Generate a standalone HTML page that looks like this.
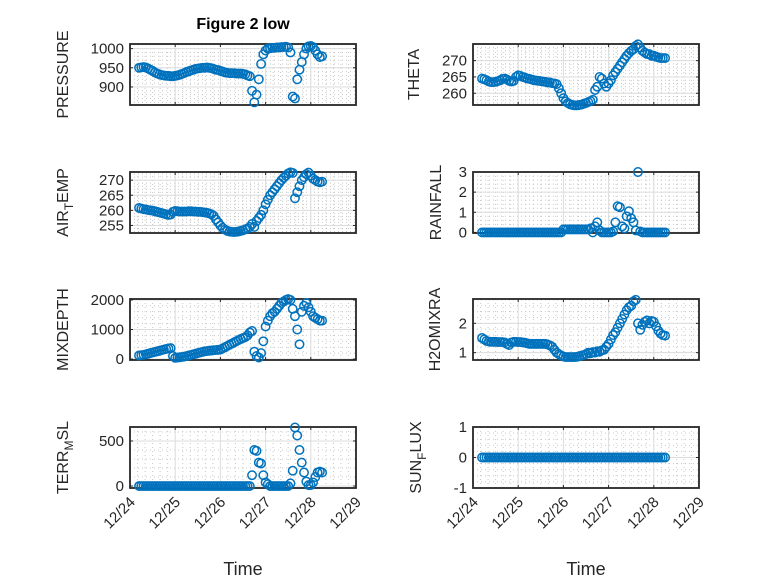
<!DOCTYPE html>
<html><head><meta charset="utf-8"><style>
html,body{margin:0;padding:0;background:#fff;}
svg{display:block;font-family:"Liberation Sans","DejaVu Sans",sans-serif;}
</style></head><body>
<svg id="fig" width="778" height="583" viewBox="0 0 778 583" xmlns="http://www.w3.org/2000/svg">
<rect width="778" height="583" fill="#fff"/>
<text x="243" y="29" font-size="16" font-weight="bold" text-anchor="middle" fill="#000">Figure 2 low</text>
</svg>
<script>
const xTickLabels = ["12/24","12/25","12/26","12/27","12/28","12/29"];
const tStart = 0.2, tStep = 0.05, nPts = 82;
const pressure = [950,951,952,951,948,945,942,938,935,933,931,930,929,929,928,928,929,930,932,934,936,939,941,943,945,947,948,949,950,950,951,950,949,947,945,944,942,940,938,937,936,936,936,935,935,935,934,933,930,928,890,860,880,920,960,985,995,1000,1001,1002,1002,1003,1003,1004,1004,1005,1003,990,875,870,920,945,965,985,1000,1006,1007,1004,995,985,978,980];
const theta = [264.5,264.3,264,263.6,263.4,263.4,263.5,263.7,264,264.4,264.5,264.2,263.8,263.6,263.8,265,265.5,265.3,265,264.8,264.5,264.4,264.2,264,263.9,263.8,263.7,263.6,263.5,263.3,263.3,263.1,263,262.8,261.5,260,258.5,257.5,257,256.6,256.4,256.3,256.3,256.4,256.5,256.8,257,257.3,257.6,258,261,262,265,264.5,263,262,263,264,265.5,266.5,267.5,268.5,269.5,270.5,271.5,272.3,273,273.5,274.5,275,274,273,272.5,272,272,271.5,271.5,271.2,271,270.8,270.8,270.8];
const airTemp = [260.8,260.6,260.4,260.3,260.1,260,259.9,259.7,259.5,259.3,259.1,258.9,258.7,258.5,258.6,259.5,259.8,259.7,259.6,259.6,259.6,259.6,259.7,259.7,259.6,259.6,259.5,259.5,259.4,259.3,259.2,259,258.7,258.2,257,256,255,254.2,253.6,253.2,253,252.9,252.8,252.9,253,253.2,253.4,253.7,254,254.5,255.5,254.5,256.5,257.5,258.5,260,262,263.5,265,266,267,268,269,270,270.8,271.5,272.2,272.6,272.4,264,266,268,270,271,272,272.5,271.5,270.5,270,269.5,269.3,269.5];
const rainfall = [0,0,0,0,0,0,0,0,0,0,0,0,0,0,0,0,0,0,0,0,0,0,0,0,0,0,0,0,0,0,0,0,0,0,0,0,0.15,0.15,0.15,0.15,0.15,0.15,0.15,0.15,0.15,0.15,0.15,0.15,0.2,0,0.3,0.5,0.1,0,0,0,0,0,0.05,0.5,1.3,1.25,0.3,0.2,0.8,1.05,0.7,0.5,0.1,3.0,0.05,0,0,0,0,0,0,0,0,0,0,0];
const mixDepth = [120,130,140,160,180,200,220,240,260,280,300,320,340,360,370,100,40,50,60,70,80,100,120,140,160,180,200,220,240,260,270,280,290,300,305,310,320,360,400,440,480,520,560,600,640,680,710,740,800,900,950,250,100,50,200,600,1100,1300,1450,1550,1600,1700,1800,1900,1950,2000,2030,2000,1700,1450,1000,500,1600,1800,1900,1750,1600,1450,1400,1350,1300,1300];
const h2oMix = [1.5,1.45,1.4,1.38,1.37,1.37,1.37,1.36,1.36,1.36,1.35,1.3,1.26,1.35,1.37,1.37,1.36,1.36,1.35,1.34,1.32,1.3,1.3,1.3,1.3,1.3,1.3,1.3,1.3,1.28,1.25,1.2,1.1,1.0,0.95,0.9,0.87,0.85,0.85,0.85,0.85,0.85,0.86,0.88,0.9,0.92,0.95,1.0,0.98,1.02,1.0,1.05,1.03,1.08,1.1,1.2,1.3,1.45,1.6,1.7,1.85,2.0,2.15,2.3,2.45,2.55,2.6,2.75,2.8,2.0,1.78,1.95,2.05,2.1,2.0,2.08,2.05,1.9,1.75,1.65,1.6,1.58];
const terrMSL = [0,0,0,0,0,0,0,0,0,0,0,0,0,0,0,0,0,0,0,0,0,0,0,0,0,0,0,0,0,0,0,0,0,0,0,0,0,0,0,0,0,0,0,0,0,0,0,0,0,0,120,400,390,260,250,120,40,20,0,0,0,0,0,0,0,0,0,30,170,650,560,400,260,150,50,10,10,40,100,150,160,150];
const sunFlux = new Array(82).fill(0);
const pressureTicks = [900,950,1000];
const thetaTicks = [260,265,270];
const airTicks = [255,260,265,270];
const rainTicks = [0,1,2,3];
const mixTicks = [0,1000,2000];
const h2oTicks = [1,2];
const terrTicks = [0,500];
const sunTicks = [-1,0,1];

const times = [];
for (let i = 0; i < nPts; i++) times.push(tStart + tStep * i);

const NS = "http://www.w3.org/2000/svg";
const svg = document.getElementById("fig");
function mk(tag, attrs, parent) {
  const e = document.createElementNS(NS, tag);
  for (const k in attrs) e.setAttribute(k, attrs[k]);
  (parent || svg).appendChild(e);
  return e;
}
const colL = 130, colR = 473, W = 226, H = 61;
const rows = [44, 172, 299, 427];
const panels = [
  {key:"pressure", vals:pressure, ticks:pressureTicks, lo:853, hi:1012, x:colL, y:rows[0], label:["PRESSURE"], lx:68},
  {key:"theta", vals:theta, ticks:thetaTicks, lo:256.4, hi:275.1, x:colR, y:rows[0], label:["THETA"], lx:419},
  {key:"air-temp", vals:airTemp, ticks:airTicks, lo:252.5, hi:272.7, x:colL, y:rows[1], label:["AIR","T","EMP"], lx:68},
  {key:"rainfall", vals:rainfall, ticks:rainTicks, lo:-0.03, hi:3.0, x:colR, y:rows[1], label:["RAINFALL"], lx:441},
  {key:"mixdepth", vals:mixDepth, ticks:mixTicks, lo:-33, hi:2033, x:colL, y:rows[2], label:["MIXDEPTH"], lx:68},
  {key:"h2omixra", vals:h2oMix, ticks:h2oTicks, lo:0.75, hi:2.83, x:colR, y:rows[2], label:["H2OMIXRA"], lx:440},
  {key:"terr-msl", vals:terrMSL, ticks:terrTicks, lo:-22, hi:655, x:colL, y:rows[3], label:["TERR","M","SL"], lx:68},
  {key:"sun-flux", vals:sunFlux, ticks:sunTicks, lo:-1, hi:1, x:colR, y:rows[3], label:["SUN","F","LUX"], lx:421}
];
panels.forEach((p, pi) => {
  const g = mk("g", {});
  
  
  const xs = t => p.x + t / 5 * W;
  const ys = v => p.y + H - (v - p.lo) / (p.hi - p.lo) * H;
  for (let d = 0; d < 5; d++) for (let m = 1; m < 6; m++) {
    const xx = xs(d + m / 6);
    mk("line", {x1:xx, x2:xx, y1:p.y, y2:p.y+H, stroke:"#c8c8c8", "stroke-width":1, "stroke-dasharray":"1 3"}, g);
  }
  const step = p.ticks[1] - p.ticks[0];
  const ms = step / 5;
  for (let v = p.ticks[0] - step; v <= p.ticks[p.ticks.length-1] + step + 1e-9; v += ms) {
    if (v <= p.lo || v >= p.hi) continue;
    const yy = ys(v);
    mk("line", {x1:p.x, x2:p.x+W, y1:yy, y2:yy, stroke:"#c8c8c8", "stroke-width":1, "stroke-dasharray":"1 3"}, g);
  }
  for (let d = 1; d < 5; d++) {
    const xx = xs(d);
    mk("line", {x1:xx, x2:xx, y1:p.y, y2:p.y+H, stroke:"#dcdcdc", "stroke-width":1}, g);
  }
  p.ticks.forEach(v => {
    const yy = ys(v);
    mk("line", {x1:p.x, x2:p.x+W, y1:yy, y2:yy, stroke:"#dcdcdc", "stroke-width":1}, g);
    mk("line", {x1:p.x, x2:p.x+3, y1:yy, y2:yy, stroke:"#262626", "stroke-width":1}, g);
    mk("line", {x1:p.x+W-3, x2:p.x+W, y1:yy, y2:yy, stroke:"#262626", "stroke-width":1}, g);
    const tl = mk("text", {x:p.x-6, y:yy+5, "font-size":15, "text-anchor":"end", fill:"#262626"}, g);
    
    
    tl.textContent = String(v);
  });
  for (let d = 1; d < 5; d++) {
    const xx = xs(d);
    mk("line", {x1:xx, x2:xx, y1:p.y, y2:p.y+3, stroke:"#262626", "stroke-width":1}, g);
    mk("line", {x1:xx, x2:xx, y1:p.y+H-3, y2:p.y+H, stroke:"#262626", "stroke-width":1}, g);
  }
  mk("rect", {x:p.x, y:p.y, width:W, height:H, fill:"none", stroke:"#262626", "stroke-width":1.8}, g);
  const mg = mk("g", {}, g);
  
  
  p.vals.forEach((v, i) => {
    const c = mk("circle", {cx:xs(times[i]), cy:ys(v), r:4.2, fill:"none", stroke:"#0072BD", "stroke-width":1.5}, mg);
    
    
  });
  const cy = p.y + H / 2;
  const lab = mk("text", {x:0, y:0, "font-size":16, "text-anchor":"middle", fill:"#262626", transform:"translate("+p.lx+","+cy+") rotate(-90)"}, g);
  
  
  if (p.label.length === 1) lab.textContent = p.label[0];
  else {
    const a = mk("tspan", {}, lab); a.textContent = p.label[0];
    const b = mk("tspan", {dy:5, "font-size":12}, lab); b.textContent = p.label[1];
    const c = mk("tspan", {dy:-5}, lab); c.textContent = p.label[2];
  }
  if (pi >= 6) {
    xTickLabels.forEach((s, d) => {
      const xx = xs(d);
      const t = mk("text", {x:0, y:0, "font-size":15, "text-anchor":"end", fill:"#262626", transform:"translate("+(xx+6)+","+(p.y+H+15)+") rotate(-45)"}, g);
      
      
      t.textContent = s;
    });
    const xl = mk("text", {x:p.x+W/2, y:575, "font-size":18, "text-anchor":"middle", fill:"#262626"}, g);
    
    
    xl.textContent = "Time";
  }
});
</script>
</body></html>
